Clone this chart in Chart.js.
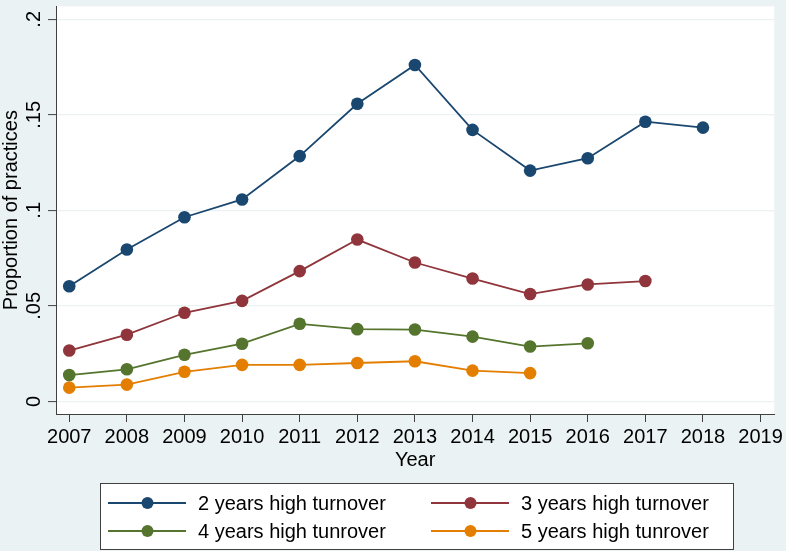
<!DOCTYPE html>
<html>
<head>
<meta charset="utf-8">
<script src="https://cdn.jsdelivr.net/npm/chart.js@4"></script>
<style>
  body { margin: 0; background: #eaf2f3; }
  canvas { display: block; }
</style>
</head>
<body>
<canvas id="chart" width="786" height="551"></canvas>
<script>
// values
const years = [2007, 2008, 2009, 2010, 2011, 2012, 2013, 2014, 2015, 2016, 2017, 2018];
const twoYears = [0.0603, 0.0795, 0.0964, 0.1057, 0.1284, 0.1558, 0.1761, 0.1421, 0.1208, 0.1273, 0.1464, 0.1433];
const threeYears = [0.0266, 0.0349, 0.0464, 0.0526, 0.0682, 0.0847, 0.0727, 0.0643, 0.0562, 0.0612, 0.0630];
const fourYears = [0.0138, 0.0168, 0.0244, 0.0302, 0.0406, 0.0378, 0.0376, 0.0339, 0.0287, 0.0304];
const fiveYears = [0.0072, 0.0088, 0.0155, 0.0191, 0.0191, 0.0201, 0.0210, 0.0161, 0.0148];

const seriesNames = ['2 years high turnover', '3 years high turnover', '4 years high tunrover', '5 years high tunrover'];
const yTicks = [0, 0.05, 0.1, 0.15, 0.2];
const yTickLabels = ['0', '.05', '.1', '.15', '.2'];

const colors = ['#1a476f', '#90353b', '#55752f', '#e37e00'];
const FONT = '"Liberation Sans", Arial, sans-serif';

function toPoints(values) {
    return values.map((v, i) => ({ x: years[i], y: v }));
}

const datasets = [twoYears, threeYears, fourYears, fiveYears].map((vals, i) => ({
    label: seriesNames[i],
    data: toPoints(vals),
    borderColor: colors[i],
    backgroundColor: colors[i],
    borderWidth: 1.8,
    pointRadius: 6.3,
    pointBorderWidth: 0,
    pointBackgroundColor: colors[i]
}));

// page background + white plot region
const backdrop = {
    id: 'backdrop',
    beforeDraw(chart) {
        const { ctx, chartArea } = chart;
        ctx.save();
        ctx.fillStyle = '#eaf2f3';
        ctx.fillRect(0, 0, chart.width, chart.height);
        ctx.fillStyle = '#ffffff';
        ctx.fillRect(chartArea.left, chartArea.top, chartArea.right - chartArea.left, chartArea.bottom - chartArea.top);
        ctx.restore();
    }
};

// rotated y labels, axis titles and the boxed legend
const decorations = {
    id: 'decorations',
    afterDraw(chart) {
        const { ctx, chartArea } = chart;
        const yScale = chart.scales.y;
        ctx.save();
        ctx.fillStyle = '#000';
        ctx.font = '20px ' + FONT;
        ctx.textAlign = 'center';
        ctx.textBaseline = 'middle';

        yTicks.forEach((v, i) => {
            const py = yScale.getPixelForValue(v);
            ctx.save();
            ctx.translate(34, py);
            ctx.rotate(-Math.PI / 2);
            ctx.fillText(yTickLabels[i], 0, 0);
            ctx.restore();
        });

        ctx.save();
        ctx.translate(11, (chartArea.top + chartArea.bottom) / 2);
        ctx.rotate(-Math.PI / 2);
        ctx.fillText('Proportion of practices', 0, 0);
        ctx.restore();

        const midX = (chartArea.left + chartArea.right) / 2;
        ctx.fillText('Year', midX, 460);

        // legend box
        const boxL = 100, boxT = 483, boxW = 633, boxH = 66;
        ctx.fillStyle = '#ffffff';
        ctx.fillRect(boxL, boxT, boxW, boxH);
        ctx.strokeStyle = '#404040';
        ctx.lineWidth = 1;
        ctx.strokeRect(boxL + 0.5, boxT + 0.5, boxW, boxH);

        const cols = [108, 431];
        const rows = [503, 531];
        chart.data.datasets.forEach((ds, i) => {
            const x0 = cols[i % 2];
            const y0 = rows[Math.floor(i / 2)];
            ctx.strokeStyle = ds.borderColor;
            ctx.lineWidth = 1.8;
            ctx.beginPath();
            ctx.moveTo(x0, y0);
            ctx.lineTo(x0 + 78, y0);
            ctx.stroke();
            ctx.fillStyle = ds.borderColor;
            ctx.beginPath();
            ctx.arc(x0 + 39.5, y0, 6, 0, Math.PI * 2);
            ctx.fill();
            ctx.fillStyle = '#000';
            ctx.textAlign = 'left';
            ctx.fillText(ds.label, x0 + 90, y0 + 1);
        });
        ctx.restore();
    }
};

new Chart(document.getElementById('chart'), {
    type: 'line',
    data: { datasets: datasets },
    options: {
        responsive: false,
        animation: false,
        layout: { padding: { left: 0, right: 9, top: 0, bottom: 0 } },
        plugins: {
            legend: { display: false },
            tooltip: { enabled: false }
        },
        scales: {
            x: {
                type: 'linear',
                min: 2006.77,
                max: 2019.237,
                afterBuildTicks(scale) {
                    scale.ticks = [];
                    for (let yr = 2007; yr <= 2019; yr++) scale.ticks.push({ value: yr });
                },
                afterFit(scale) { scale.height = 137; },
                ticks: {
                    color: '#000',
                    font: { family: FONT, size: 20 },
                    padding: 3,
                    maxRotation: 0,
                    callback: v => String(v)
                },
                grid: {
                    drawOnChartArea: false,
                    drawTicks: true,
                    tickLength: 8,
                    tickColor: '#404040',
                    tickWidth: 1
                },
                border: { display: true, color: '#404040', width: 1 }
            },
            y: {
                type: 'linear',
                min: -0.0066,
                max: 0.2068,
                afterBuildTicks(scale) {
                    scale.ticks = yTicks.map(v => ({ value: v }));
                },
                afterFit(scale) { scale.width = 56; },
                ticks: { display: false },
                grid: {
                    color: '#eaf2f3',
                    lineWidth: 1.2,
                    drawTicks: true,
                    tickLength: 8,
                    tickColor: '#404040',
                    tickWidth: 1
                },
                border: { display: true, color: '#404040', width: 1 }
            }
        }
    },
    plugins: [backdrop, decorations]
});
</script>
</body>
</html>
